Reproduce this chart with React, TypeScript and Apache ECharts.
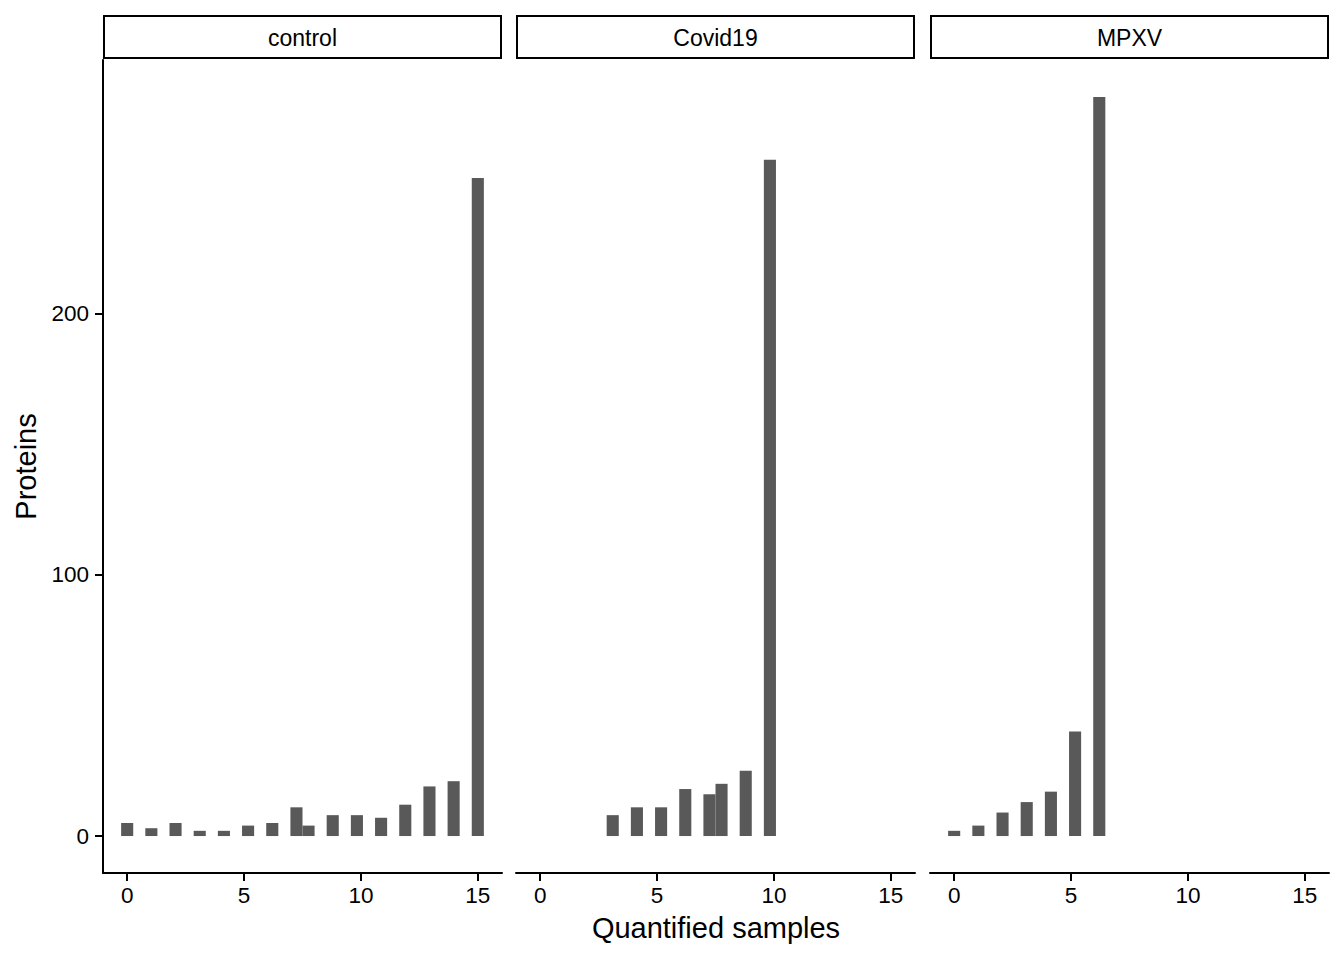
import React, { useEffect, useRef } from "react";
import * as echarts from "echarts";

// ---- data ----
const panelNames = ["control", "Covid19", "MPXV"];

const controlSamples = [0, 1, 2, 3, 4, 5, 6, 7, 8, 9, 10, 11, 12, 13, 14, 15];
const controlProteins = [5, 3, 5, 2, 2, 4, 5, 11, 4, 8, 8, 7, 12, 19, 21, 252];

const covidSamples = [3, 4, 5, 6, 7, 8, 9, 10];
const covidProteins = [8, 11, 11, 18, 16, 20, 25, 259];

const mpxvSamples = [0, 1, 2, 3, 4, 5, 6];
const mpxvProteins = [2, 4, 9, 13, 17, 40, 283];

const xTickValues = [0, 5, 10, 15];
const yTickValues = [0, 100, 200];

const xTitle = "Quantified samples";
const yTitle = "Proteins";

// histogram: 30 bins across the shared range 0..15
const SAMPLE_MIN = 0;
const SAMPLE_MAX = 15;
const BINS = 30;

const FONT = "'Liberation Sans', Arial, Helvetica, sans-serif";

export default function App() {
  const ref = useRef<HTMLDivElement>(null);

  useEffect(() => {
    if (!ref.current) return;
    const chart = echarts.init(ref.current, undefined, { renderer: "svg" });

    const bw = (SAMPLE_MAX - SAMPLE_MIN) / (BINS - 1);
    const binCenter = (s: number) => SAMPLE_MIN + Math.round((s - SAMPLE_MIN) / bw) * bw;
    const xLo = SAMPLE_MIN - bw / 2;
    const xHi = SAMPLE_MAX + bw / 2;
    const xPad = (xHi - xLo) * 0.05;
    const xMin = xLo - xPad;
    const xMax = xHi + xPad;

    const sets = [
      [controlSamples, controlProteins],
      [covidSamples, covidProteins],
      [mpxvSamples, mpxvProteins],
    ];
    const allCounts = [...controlProteins, ...covidProteins, ...mpxvProteins];
    const yTop = Math.max(...allCounts);
    const yPad = yTop * 0.05;
    const yMin = -yPad;
    const yMax = yTop + yPad;

    const panelLeft = [103, 516, 930];
    const panelWidth = 399;
    const panelTop = 60;
    const panelHeight = 813;

    const grids = panelLeft.map((l) => ({
      left: l,
      top: panelTop,
      width: panelWidth,
      height: panelHeight,
      containLabel: false,
    }));

    const xAxes = panelLeft.map((_, i) => ({
      type: "value",
      gridIndex: i,
      min: xMin,
      max: xMax,
      splitLine: { show: false },
      axisLine: { show: true, onZero: false, lineStyle: { color: "#000", width: 2 } },
      axisTick: {
        show: true,
        length: 8,
        customValues: xTickValues,
        lineStyle: { color: "#000", width: 2 },
      },
      axisLabel: {
        show: true,
        customValues: xTickValues,
        margin: 11,
        color: "#000",
        fontSize: 22.5,
        fontFamily: FONT,
        formatter: (v: number) => String(v),
      },
    }));

    const yAxes = panelLeft.map((_, i) => ({
      type: "value",
      gridIndex: i,
      min: yMin,
      max: yMax,
      splitLine: { show: false },
      axisLine: { show: i === 0, onZero: false, lineStyle: { color: "#000", width: 2 } },
      axisTick: {
        show: i === 0,
        length: 8,
        customValues: yTickValues,
        lineStyle: { color: "#000", width: 2 },
      },
      axisLabel: {
        show: i === 0,
        customValues: yTickValues,
        margin: 14,
        color: "#000",
        fontSize: 22.5,
        fontFamily: FONT,
        formatter: (v: number) => String(v),
      },
    }));

    const series = sets.map(([samples, counts], i) => ({
      type: "custom",
      xAxisIndex: i,
      yAxisIndex: i,
      clip: true,
      encode: { x: 0, y: 1 },
      data: samples.map((s, k) => [binCenter(s), counts[k]]),
      renderItem: (_params: any, api: any) => {
        const cx = api.value(0);
        const cy = api.value(1);
        const p0 = api.coord([cx - bw / 2, 0]);
        const p1 = api.coord([cx + bw / 2, cy]);
        return {
          type: "rect",
          shape: { x: p0[0], y: p1[1], width: p1[0] - p0[0], height: p0[1] - p1[1] },
          style: { fill: "#595959" },
        };
      },
    }));

    const graphics: any[] = [];
    panelLeft.forEach((l, i) => {
      graphics.push({
        type: "rect",
        shape: { x: l + 1, y: 16, width: panelWidth - 2, height: 42 },
        style: { fill: "#fff", stroke: "#000", lineWidth: 2 },
        z: 10,
      });
      graphics.push({
        type: "text",
        x: l + panelWidth / 2,
        y: 38,
        style: {
          text: panelNames[i],
          fontSize: 23,
          fontFamily: FONT,
          fill: "#000",
          textAlign: "center",
          textVerticalAlign: "middle",
        },
        z: 11,
      });
    });
    graphics.push({
      type: "text",
      x: (panelLeft[0] + panelLeft[2] + panelWidth) / 2,
      y: 928,
      style: {
        text: xTitle,
        fontSize: 29,
        fontFamily: FONT,
        fill: "#000",
        textAlign: "center",
        textVerticalAlign: "middle",
      },
    });
    graphics.push({
      type: "text",
      x: 26,
      y: panelTop + panelHeight / 2,
      rotation: Math.PI / 2,
      style: {
        text: yTitle,
        fontSize: 29,
        fontFamily: FONT,
        fill: "#000",
        textAlign: "center",
        textVerticalAlign: "middle",
      },
    });

    chart.setOption({
      animation: false,
      backgroundColor: "#fff",
      grid: grids,
      xAxis: xAxes,
      yAxis: yAxes,
      series,
      graphic: graphics,
    });

    return () => chart.dispose();
  }, []);

  return (
    <div
      ref={ref}
      style={{ position: "absolute", left: 0, top: 0, width: 1344, height: 960 }}
    />
  );
}
